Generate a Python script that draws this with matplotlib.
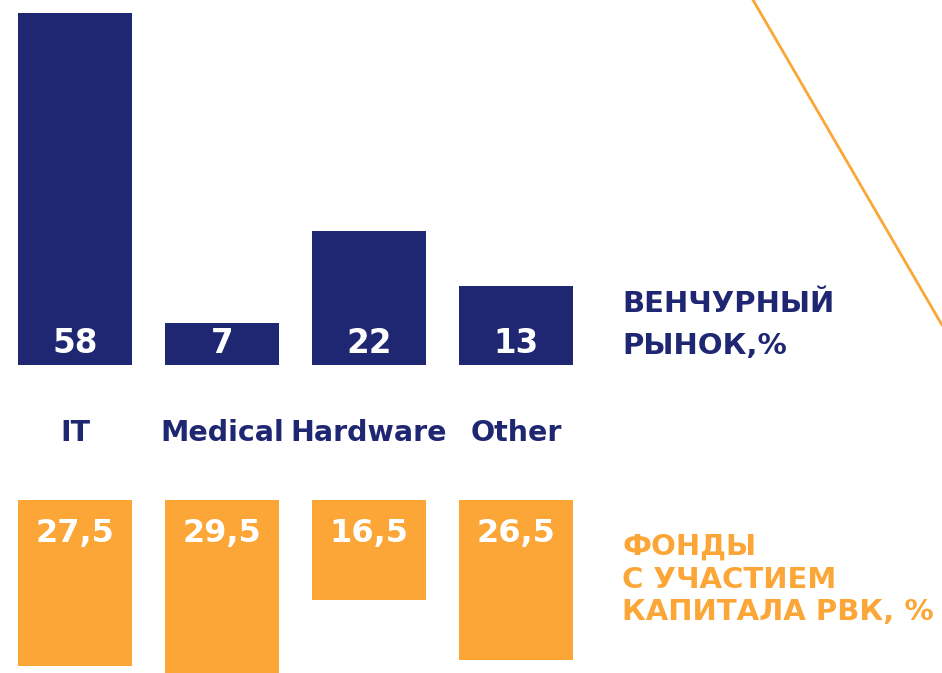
import matplotlib
matplotlib.use("Agg")
import matplotlib.pyplot as plt
from matplotlib.lines import Line2D

plt.rcParams['font.family'] = ['DejaVu Sans']

categories = ["IT", "Medical", "Hardware", "Other"]
venture = [58, 7, 22, 13]
funds = [27.5, 29.5, 16.5, 26.5]
venture_labels = ["58", "7", "22", "13"]
funds_labels = ["27,5", "29,5", "16,5", "26,5"]
venture_title = ["ВЕНЧУРНЫЙ", "РЫНОК,%"]
funds_title = ["ФОНДЫ", "С УЧАСТИЕМ", "КАПИТАЛА РВК, %"]

navy = "#1F2672"
orange = "#FBA636"

W, H = 942, 673
fig = plt.figure(figsize=(W / 100, H / 100), dpi=100)

# x scale: 147 px per category, first bar centre at 75 px
step = 147.0
xlim = (-75 / step, (W - 75) / step)
bw = 114 / step
xs = list(range(len(categories)))

# top panel: baseline at y=365 px, 58 -> top at 13 px
ax1 = fig.add_axes([0, (H - 365) / H, 1, 352 / H])
ax1.bar(xs, venture, width=bw, color=navy)
ax1.set_xlim(*xlim)
ax1.set_ylim(0, 58)
for x, lab in zip(xs, venture_labels):
    ax1.text(x, 3.6, lab, color="white", fontsize=23.5, fontweight="bold",
             ha="center", va="center")
ax1.axis("off")

# bottom panel: bars hang down from y=500 px
ax2 = fig.add_axes([0, 0, 1, (H - 500) / H])
ax2.bar(xs, funds, width=bw, color=orange)
ax2.set_xlim(*xlim)
ax2.set_ylim(173 / 6.04, 0)
for x, lab in zip(xs, funds_labels):
    ax2.text(x, 5.5, lab, color="white", fontsize=23, fontweight="bold",
             ha="center", va="center")
ax2.axis("off")

# category names
for x, c in zip(xs, categories):
    fig.text((75 + x * step) / W, 1 - 433 / H, c, color=navy, fontsize=20.5,
             fontweight="bold", ha="center", va="center")

# series names
for i, line in enumerate(venture_title):
    fig.text(622 / W, 1 - (304 + 42 * i) / H, line, color=navy, fontsize=21,
             fontweight="bold", ha="left", va="center")
for i, line in enumerate(funds_title):
    fig.text(622 / W, 1 - (547 + 32.5 * i) / H, line, color=orange, fontsize=21,
             fontweight="bold", ha="left", va="center")

# decorative diagonal line
fig.add_artist(Line2D([753 / W, 942 / W], [1, 1 - 325 / H], color=orange, lw=2,
                      transform=fig.transFigure))

fig.savefig("out.png", dpi=100)
